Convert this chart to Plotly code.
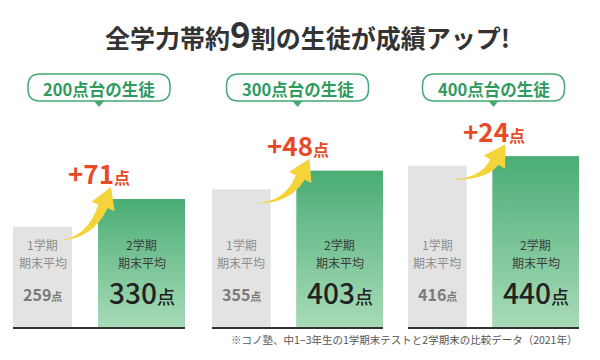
import math
import plotly.graph_objects as go

# ---------------- data ----------------
groups = ["200点台の生徒", "300点台の生徒", "400点台の生徒"]
term1 = [259, 355, 416]          # 1学期 期末平均
term2 = [330, 403, 440]          # 2学期 期末平均
term1_lines = ["1学期", "期末平均"]
term2_lines = ["2学期", "期末平均"]
unit = "点"
title_pre = "全学力帯約"
title_num = "9"
title_post = "割の生徒が成績アップ!"
footnote = "※コノ塾、中1−3年生の1学期末テストと2学期末の比較データ（2021年）"

# ---------------- layout constants ----------------
W, H = 600, 360
panel_px = [(13, 185), (212, 383), (408, 579)]
base_py = 327
YMAX = 843
XR = [-0.298, 1.439]
GW, GRW = 0.596, 0.879
FONT = "Noto Sans CJK JP"

GRAY = "#e3e3e3"
GREEN_TOP = "#4aad75"
GREEN_BOT = "#a8dbb8"
GREEN_MID = "#78c593"
BADGE = "#45a873"
RED = "#e84a27"
YELLOW = "#f5d43a"


def ppx(x):
    return x / W


def ppy(y):
    return 1 - y / H


def x_px(i, xv):
    L, R = panel_px[i]
    return L + (xv - XR[0]) / (XR[1] - XR[0]) * (R - L)


def y_px(v):
    return base_py - v / YMAX * base_py


fig = go.Figure()
shapes = []
annotations = []


def ann(**kw):
    kw.setdefault("showarrow", False)
    kw.setdefault("xanchor", "center")
    kw.setdefault("yanchor", "middle")
    kw.setdefault("borderpad", 0)
    annotations.append(kw)


for i in range(3):
    ax = "" if i == 0 else str(i + 1)
    xa, ya = "x" + ax, "y" + ax
    L, R = panel_px[i]
    cx = (L + R) / 2

    fig.add_trace(go.Bar(x=[0], y=[term1[i]], width=[GW],
                         marker=dict(color=GRAY, line_width=0),
                         xaxis=xa, yaxis=ya, showlegend=False, hoverinfo="skip"))
    fig.add_trace(go.Bar(x=[1], y=[term2[i]], width=[GRW],
                         marker=dict(color=GREEN_MID, line_width=0),
                         xaxis=xa, yaxis=ya, showlegend=False, hoverinfo="skip"))
    # gradient overlay on the same bar
    fig.add_trace(go.Scatter(x=[1 - GRW / 2, 1 + GRW / 2], y=[term2[i], term2[i]],
                             mode="none", fill="tozeroy",
                             fillgradient=dict(type="vertical",
                                               colorscale=[[0, GREEN_BOT], [1, GREEN_TOP]],
                                               start=0, stop=term2[i]),
                             xaxis=xa, yaxis=ya, showlegend=False, hoverinfo="skip"))

    fig.layout["xaxis" + ax] = dict(domain=[L / W, R / W], range=XR, anchor=ya,
                                    showline=True, linecolor="#333333", linewidth=2,
                                    showticklabels=False, ticks="", showgrid=False,
                                    zeroline=False, fixedrange=True, automargin=False)
    fig.layout["yaxis" + ax] = dict(domain=[(H - base_py) / H, 1], range=[0, YMAX],
                                    anchor=xa, visible=False, fixedrange=True,
                                    automargin=False)

    # badge (rounded pill)
    bx0, bx1, by0, by1, r = cx - 71, cx + 71, 74, 101, 12
    pts = (f"M {ppx(bx0 + r)},{ppy(by0)} L {ppx(bx1 - r)},{ppy(by0)} "
           f"Q {ppx(bx1)},{ppy(by0)} {ppx(bx1)},{ppy(by0 + r)} "
           f"L {ppx(bx1)},{ppy(by1 - r)} "
           f"Q {ppx(bx1)},{ppy(by1)} {ppx(bx1 - r)},{ppy(by1)} "
           f"L {ppx(bx0 + r)},{ppy(by1)} "
           f"Q {ppx(bx0)},{ppy(by1)} {ppx(bx0)},{ppy(by1 - r)} "
           f"L {ppx(bx0)},{ppy(by0 + r)} "
           f"Q {ppx(bx0)},{ppy(by0)} {ppx(bx0 + r)},{ppy(by0)} Z")
    shapes.append(dict(type="path", xref="paper", yref="paper", path=pts,
                       fillcolor="white", line=dict(color=BADGE, width=1.5), layer="above"))
    tri = (f"M {ppx(cx - 5)},{ppy(by1)} L {ppx(cx + 5)},{ppy(by1)} "
           f"L {ppx(cx)},{ppy(by1 + 6)} Z")
    shapes.append(dict(type="path", xref="paper", yref="paper", path=tri,
                       fillcolor=BADGE, line=dict(width=0), layer="above"))
    ann(xref="paper", yref="paper", x=ppx(cx), y=ppy(88.5),
        text=groups[i],
        font=dict(family=FONT, size=16.5, color="#2f9a5e", weight=700))

    # curved arrow
    S = (x_px(i, GW / 2) - 16, y_px(term1[i]) + 14)
    T = (x_px(i, 1 - GRW / 2) + 13, y_px(term2[i]) - 12)
    C = (T[0] - 22, S[1])
    dx, dy = T[0] - C[0], T[1] - C[1]
    dl = math.hypot(dx, dy)
    dx, dy = dx / dl, dy / dl
    nx, ny = -dy, dx
    Hb = (T[0] - 21 * dx, T[1] - 21 * dy)

    def P(x, y):
        return f"{ppx(x)},{ppy(y)}"

    arrow = (f"M {P(*S)} "
             f"Q {P(C[0] + nx * 2.5, C[1] + ny * 2.5)} {P(Hb[0] + nx * 5, Hb[1] + ny * 5)} "
             f"L {P(Hb[0] + nx * 12.5, Hb[1] + ny * 12.5)} L {P(*T)} "
             f"L {P(Hb[0] - nx * 12.5, Hb[1] - ny * 12.5)} "
             f"L {P(Hb[0] - nx * 5, Hb[1] - ny * 5)} "
             f"Q {P(C[0] - nx * 2.5, C[1] - ny * 2.5)} {P(*S)} Z")
    shapes.append(dict(type="path", xref="paper", yref="paper", path=arrow,
                       fillcolor=YELLOW, line=dict(width=0), layer="above"))

    # increment label
    diff = term2[i] - term1[i]
    ann(xref="paper", yref=ya, x=ppx(cx), y=term2[i], yshift=26,
        text=f"+{diff}<span style='font-size:16px'>{unit}</span>",
        font=dict(family=FONT, size=26, color=RED, weight=700))

    # labels inside bars
    for k, (l1, l2) in enumerate(zip(term1_lines, term2_lines)):
        yy = ppy(244 + 18 * k)
        ann(xref=xa, yref="paper", x=0, y=yy, text=l1,
            font=dict(family=FONT, size=12, color="#8c8c8c"))
        ann(xref=xa, yref="paper", x=1, y=yy, text=l2,
            font=dict(family=FONT, size=12, color="#3a3a3a"))
    ann(xref=xa, yref="paper", x=0, y=ppy(294),
        text=f"{term1[i]}<span style='font-size:11px'>{unit}</span>",
        font=dict(family=FONT, size=16, color="#7a7a7a", weight=700))
    ann(xref=xa, yref="paper", x=1, y=ppy(292),
        text=f"{term2[i]}<span style='font-size:18px'>{unit}</span>",
        font=dict(family=FONT, size=28, color="#222222", weight=500))

# title
ann(xref="paper", yref="paper", x=ppx(307), y=ppy(32),
    text=f"{title_pre}<span style='font-size:35px'>{title_num}</span>{title_post}",
    font=dict(family=FONT, size=25, color="#333333", weight=700))
# footnote
ann(xref="paper", yref="paper", x=ppx(578), y=ppy(339), xanchor="right",
    text=footnote,
    font=dict(family=FONT, size=10.5, color="#555555"))

fig.update_layout(width=W, height=H, margin=dict(l=0, r=0, t=0, b=0, autoexpand=False),
                  paper_bgcolor="white", plot_bgcolor="rgba(0,0,0,0)",
                  barmode="overlay", showlegend=False,
                  shapes=shapes, annotations=annotations)

fig.write_html("out.html", config={"displayModeBar": False, "staticPlot": True},
               post_script="document.body.style.margin='0';document.body.style.padding='0';")
